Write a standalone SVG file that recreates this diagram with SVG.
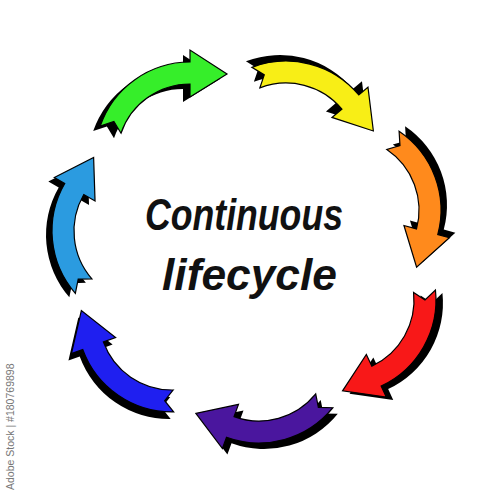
<svg xmlns="http://www.w3.org/2000/svg" xmlns:xlink="http://www.w3.org/1999/xlink" width="500" height="500" viewBox="0 0 500 500">
<style>
.sh{fill:#000}
.ar{stroke:#000;stroke-width:1.2;stroke-linejoin:miter}
.title{font-family:"Liberation Sans",Arial,sans-serif;font-weight:bold;font-style:italic;font-size:45px;fill:#111}
.wm{font-family:"Liberation Sans",Arial,sans-serif;font-size:10.5px;fill:#777}
</style>
<defs>
<path id="arr" d="M -89.8,-30.9 A 95 95 0 0 1 0,-95 L 0,-107 L 37,-83 L 0,-60 L 0,-73 A 73 73 0 0 0 -69,-23.8 L -76.1,-35.5 Z"/>
</defs>
<rect width="500" height="500" fill="#fff"/>
<g id="arrow-green">
<use href="#arr" class="sh" transform="translate(-7,5) translate(190,157)"/>
<use href="#arr" class="ar" fill="#36ee2a" transform="translate(190,157)"/>
</g>
<g id="arrow-yellow">
<use href="#arr" class="sh" transform="translate(-6,-6) translate(286,156) rotate(50)"/>
<use href="#arr" class="ar" fill="#f8ee16" transform="translate(286,156) rotate(50)"/>
</g>
<g id="arrow-orange">
<use href="#arr" class="sh" transform="translate(6,-5) translate(346,210) rotate(105)"/>
<use href="#arr" class="ar" fill="#ff8a1c" transform="translate(346,210) rotate(105)"/>
</g>
<g id="arrow-red">
<use href="#arr" class="sh" transform="translate(7,3) translate(341,300) rotate(155)"/>
<use href="#arr" class="ar" fill="#f81818" transform="translate(341,300) rotate(155)"/>
</g>
<g id="arrow-purple">
<use href="#arr" class="sh" transform="translate(5,6) translate(259,348) rotate(200)"/>
<use href="#arr" class="ar" fill="#4a169e" transform="translate(259,348) rotate(200)"/>
</g>
<g id="arrow-blue">
<use href="#arr" class="sh" transform="translate(-3,7) translate(172,317) rotate(250)"/>
<use href="#arr" class="ar" fill="#1f1ff0" transform="translate(172,317) rotate(250)"/>
</g>
<g id="arrow-lightblue">
<use href="#arr" class="sh" transform="translate(-6,4) translate(147,231) rotate(300)"/>
<use href="#arr" class="ar" fill="#2b9be0" transform="translate(147,231) rotate(300)"/>
</g>
<g id="label">
<text class="title" x="145" y="230" textLength="198" lengthAdjust="spacingAndGlyphs">Continuous</text>
<text class="title" x="162" y="290" textLength="175" lengthAdjust="spacingAndGlyphs">lifecycle</text>
</g>
<text class="wm" transform="translate(14,490) rotate(-90)">Adobe Stock | #180769898</text>
</svg>
